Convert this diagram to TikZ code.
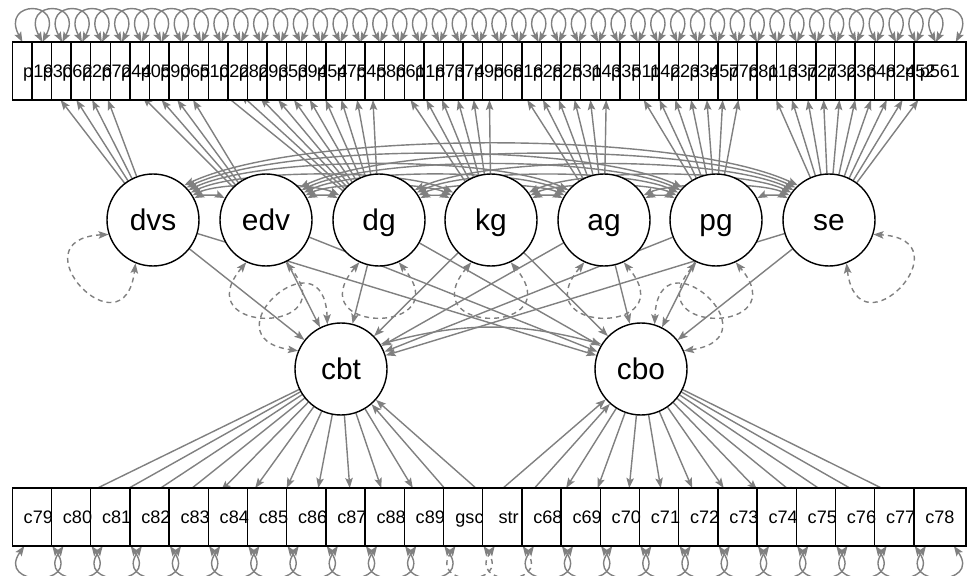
\documentclass[tikz,border=0pt]{standalone}
\usepackage{fontspec}
\setmainfont{Liberation Sans}
\usetikzlibrary{arrows.meta, calc, backgrounds}

% Item lists
\newcommand{\topitems}{p19,p30,p62,p26,p72,p44,p05,p90,p65,p10,p22,p82,p93,p53,p94,p54,p75,p45,p86,p61,p18,p73,p74,p95,p68,p16,p28,p25,p31,p43,p35,p11,p42,p23,p34,p57,p76,p81,p13,p37,p27,p32,p36,p48,p24,p52,p561}
\newcommand{\botitems}{c79,c80,c81,c82,c83,c84,c85,c86,c87,c88,c89,gsc,str,c68,c69,c70,c71,c72,c73,c74,c75,c76,c77,c78}

% Dashed variance loop of a latent variable
\newcommand{\varloop}[2]{%
	\pgfmathtruncatemacro\loopa{#2-25}%
	\pgfmathtruncatemacro\loopb{#2+25}%
	\pgfmathtruncatemacro\loopc{#2-40}%
	\pgfmathtruncatemacro\loopd{#2+40}%
	\draw[fixcov] (#1.\loopa) .. controls +(\loopc:95) and +(\loopd:95) .. (#1.\loopb);}

\begin{document}
\begin{tikzpicture}[x=0.2mm, y=0.2mm,
	obs/.style={draw, fill=white, line width=0.8pt, minimum width=10.4mm, minimum height=11.6mm, inner sep=0pt, outer sep=0pt},
	lat/.style={draw, circle, fill=white, line width=0.8pt, minimum size=18.4mm, inner sep=0pt, text height=12.2pt, text depth=0pt, font=\fontsize{17}{20}\selectfont},
	lbl/.style={inner sep=0pt, text height=7.4pt, text depth=0pt, font=\fontsize{10.3}{12}\selectfont},
	arr/.style={draw=gray, line width=0.8pt, -{Stealth[length=2mm, width=1.5mm, inset=0.4mm]}},
	cov/.style={draw=gray, line width=0.8pt, {Stealth[length=2mm, width=1.5mm, inset=0.4mm]}-{Stealth[length=2mm, width=1.5mm, inset=0.4mm]}},
	fixcov/.style={cov, dash pattern=on 1mm off 0.8mm}]
	\useasboundingbox (0,0) rectangle (970,575);

	% Drawing the latent variables
	\node[lat] (dvs) at (153,355) {dvs};
	\node[lat] (edv) at (266,355) {edv};
	\node[lat] (dg) at (379,355) {dg};
	\node[lat] (kg) at (491,355) {kg};
	\node[lat] (ag) at (604,355) {ag};
	\node[lat] (pg) at (716,355) {pg};
	\node[lat] (se) at (829,355) {se};
	\node[lat] (cbt) at (341,206) {cbt};
	\node[lat] (cbo) at (641,206) {cbo};

	% Drawing the boxes, then their labels
	\foreach \lab [count=\i from 0] in \topitems {
		\node[obs] (\lab) at ({38.3+19.6*\i},504) {};
	}
	\foreach \lab [count=\i from 0] in \botitems {
		\node[obs] (\lab) at ({38.3+39.2*\i},58) {};
	}
	\foreach \lab in \topitems {
		\node[lbl] (\lab-l) at (\lab) {\lab};
	}
	\foreach \lab in \botitems {
		\node[lbl] (\lab-l) at (\lab) {\lab};
	}

	\begin{scope}[on background layer]
		% Drawing the loadings of the upper items
		\foreach \lat/\items in {dvs/{p19,p30,p62,p26}, edv/{p72,p44,p05,p90},
			dg/{p65,p10,p22,p82,p93,p53,p94,p54,p75,p45}, kg/{p86,p61,p18,p73,p74,p95},
			ag/{p68,p16,p28,p25,p31,p43}, pg/{p35,p11,p42,p23,p34,p57,p76},
			se/{p81,p13,p37,p27,p32,p36,p48,p24,p52,p561}} {
			\foreach \ind in \items {
				\draw[arr] (\lat) -- (\ind);
			}
		}

		% Drawing the loadings of the lower items
		\foreach \ind in {c79,c80,c81,c82,c83,c84,c85,c86,c87,c88,c89} {
			\draw[arr] (cbt) -- (\ind);
		}
		\foreach \ind in {c68,c69,c70,c71,c72,c73,c74,c75,c76,c77,c78} {
			\draw[arr] (cbo) -- (\ind);
		}

		% Drawing the regressions
		\foreach \lat in {dvs,edv,dg,kg,ag,pg,se} {
			\draw[arr] (\lat) -- (cbt);
			\draw[arr] (\lat) -- (cbo);
		}
		\foreach \ob in {gsc,str} {
			\draw[arr] (\ob) -- (cbt);
			\draw[arr] (\ob) -- (cbo);
		}

		% Drawing the covariances of the latent variables
		\foreach \u/\v/\dist in {dvs/edv/1, dvs/dg/2, dvs/kg/3, dvs/ag/4, dvs/pg/5, dvs/se/6,
			edv/dg/1, edv/kg/2, edv/ag/3, edv/pg/4, edv/se/5, dg/kg/1, dg/ag/2, dg/pg/3,
			dg/se/4, kg/ag/1, kg/pg/2, kg/se/3, ag/pg/1, ag/se/2, pg/se/1} {
			\pgfmathtruncatemacro\covout{24+4*\dist}
			\pgfmathtruncatemacro\covin{180-\covout}
			\draw[cov] (\u.\covout) to[out=25, in=155, looseness=0.55] (\v.\covin);
		}
		\draw[cov] (cbt.32) to[out=15, in=165] (cbo.148);

		% Drawing the variance loops
		\varloop{dvs}{223}
		\foreach \lat in {edv,dg,kg,ag,pg} {
			\varloop{\lat}{270}
		}
		\varloop{se}{317}
		\varloop{cbt}{132}
		\varloop{cbo}{48}

		\foreach \lab [count=\i from 0] in \topitems {
			\pgfmathsetmacro\sh{(38.3+19.6*\i-489)*0.013}
			\draw[cov] ($(\lab.north)+(\sh-10,0)$) .. controls +(118:48) and +(62:48) .. ($(\lab.north)+(\sh+10,0)$);
		}
		\foreach \lab/\st in {c79/cov,c80/cov,c81/cov,c82/cov,c83/cov,c84/cov,c85/cov,c86/cov,
			c87/cov,c88/cov,c89/cov,gsc/fixcov,str/fixcov,c68/cov,c69/cov,c70/cov,c71/cov,
			c72/cov,c73/cov,c74/cov,c75/cov,c76/cov,c77/cov,c78/cov} {
			\draw[\st] ($(\lab.south)+(-14,0)$) .. controls +(235:50) and +(305:50) .. ($(\lab.south)+(14,0)$);
		}
	\end{scope}
\end{tikzpicture}
\end{document}
